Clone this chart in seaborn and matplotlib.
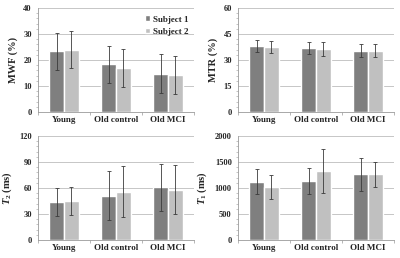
import numpy as np
import pandas as pd
import matplotlib
matplotlib.use("Agg")
import matplotlib.pyplot as plt
from matplotlib.ticker import AutoMinorLocator, FixedLocator
import seaborn as sns

groups = ["Young", "Old control", "Old MCI"]
subjects = ["Subject 1", "Subject 2"]

mwf_s1 = [23.3, 18.3, 14.7]
mwf_s2 = [24.0, 17.0, 14.1]
mwf_sd1 = [7.0, 7.0, 7.5]
mwf_sd2 = [7.1, 7.3, 7.3]

mtr_s1 = [37.9, 36.9, 35.3]
mtr_s2 = [37.6, 36.2, 35.4]
mtr_sd1 = [3.5, 3.7, 3.8]
mtr_sd2 = [3.3, 4.0, 3.7]

t2_s1 = [43.8, 51.2, 60.8]
t2_s2 = [45.0, 55.8, 58.0]
t2_sd1 = [16.2, 28.4, 27.0]
t2_sd2 = [16.2, 29.6, 28.5]

t1_s1 = [1122, 1135, 1263]
t1_s2 = [1019, 1320, 1265]
t1_sd1 = [243, 256, 314]
t1_sd2 = [237, 424, 241]

panels = [
    ("MWF (%)", mwf_s1, mwf_s2, mwf_sd1, mwf_sd2, 40, 10),
    ("MTR (%)", mtr_s1, mtr_s2, mtr_sd1, mtr_sd2, 60, 15),
    ("$\\mathit{T}_\\mathbf{2}$ (ms)", t2_s1, t2_s2, t2_sd1, t2_sd2, 120, 30),
    ("$\\mathit{T}_\\mathbf{1}$ (ms)", t1_s1, t1_s2, t1_sd1, t1_sd2, 2000, 500),
]

colors = ["#7f7f7f", "#c0c0c0"]

sns.set_style("white")
plt.rcParams["font.family"] = ["Liberation Serif", "DejaVu Serif"]
plt.rcParams["font.weight"] = "bold"
plt.rcParams["mathtext.fontset"] = "custom"
plt.rcParams["mathtext.it"] = "Liberation Serif:italic:bold"
plt.rcParams["mathtext.bf"] = "Liberation Serif:bold"
plt.rcParams["mathtext.rm"] = "Liberation Serif:bold"

fig = plt.figure(figsize=(4, 2.58), dpi=100)
boxes = [
    [0.095, 0.566, 0.39, 0.403],
    [0.595, 0.566, 0.39, 0.403],
    [0.095, 0.070, 0.39, 0.403],
    [0.595, 0.070, 0.39, 0.403],
]

for i, (label, s1, s2, sd1, sd2, ymax, step) in enumerate(panels):
    ax = fig.add_axes(boxes[i])
    df = pd.DataFrame({
        "group": groups * 2,
        "subject": [subjects[0]] * 3 + [subjects[1]] * 3,
        "value": s1 + s2,
        "sd": sd1 + sd2,
    })
    sns.barplot(data=df, x="group", y="value", hue="subject",
                palette=colors, width=0.56, errorbar=None, ax=ax,
                legend=(i == 0), saturation=1)
    # error bars placed at bar centres
    for j, sub in enumerate(subjects):
        sub_df = df[df["subject"] == sub]
        xs = np.arange(3) + (j - 0.5) * 0.28
        ax.errorbar(xs, sub_df["value"], yerr=sub_df["sd"], fmt="none",
                    ecolor="#3a3a3a", elinewidth=0.6, capsize=1.3,
                    capthick=0.6)
    ax.set_ylim(0, ymax)
    ax.set_xlim(-0.5, 2.5)
    ax.set_yticks(np.arange(0, ymax + step, step))
    ax.yaxis.set_minor_locator(AutoMinorLocator(5))
    ax.xaxis.set_minor_locator(FixedLocator([-0.5, 0.5, 1.5, 2.5]))
    ax.yaxis.grid(True, color="#bdbdbd", linewidth=0.6)
    ax.set_axisbelow(True)
    for side in ["top", "right"]:
        ax.spines[side].set_visible(False)
    for side in ["left", "bottom"]:
        ax.spines[side].set_color("#9a9a9a")
        ax.spines[side].set_linewidth(0.6)
    ax.tick_params(axis="y", which="major", length=2.5, width=0.5,
                   color="#9a9a9a", labelsize=6, pad=2)
    ax.tick_params(axis="y", which="minor", left=True, length=1.5,
                   width=0.4, color="#9a9a9a")
    ax.tick_params(axis="x", which="major", length=0, labelsize=6.5, pad=3)
    ax.tick_params(axis="x", which="minor", bottom=True, length=2.5,
                   width=0.5, color="#9a9a9a")
    ax.set_xlabel("")
    ax.set_ylabel(label, fontsize=7.5, fontweight="bold", labelpad=4)
    if i == 0:
        ax.legend(loc="upper right", frameon=False, fontsize=6.5,
                  handlelength=0.6, handleheight=0.6, handletextpad=0.3,
                  labelspacing=0.45, borderaxespad=0.2,
                  bbox_to_anchor=(1.0, 0.98))

fig.savefig("out.png", dpi=100)
